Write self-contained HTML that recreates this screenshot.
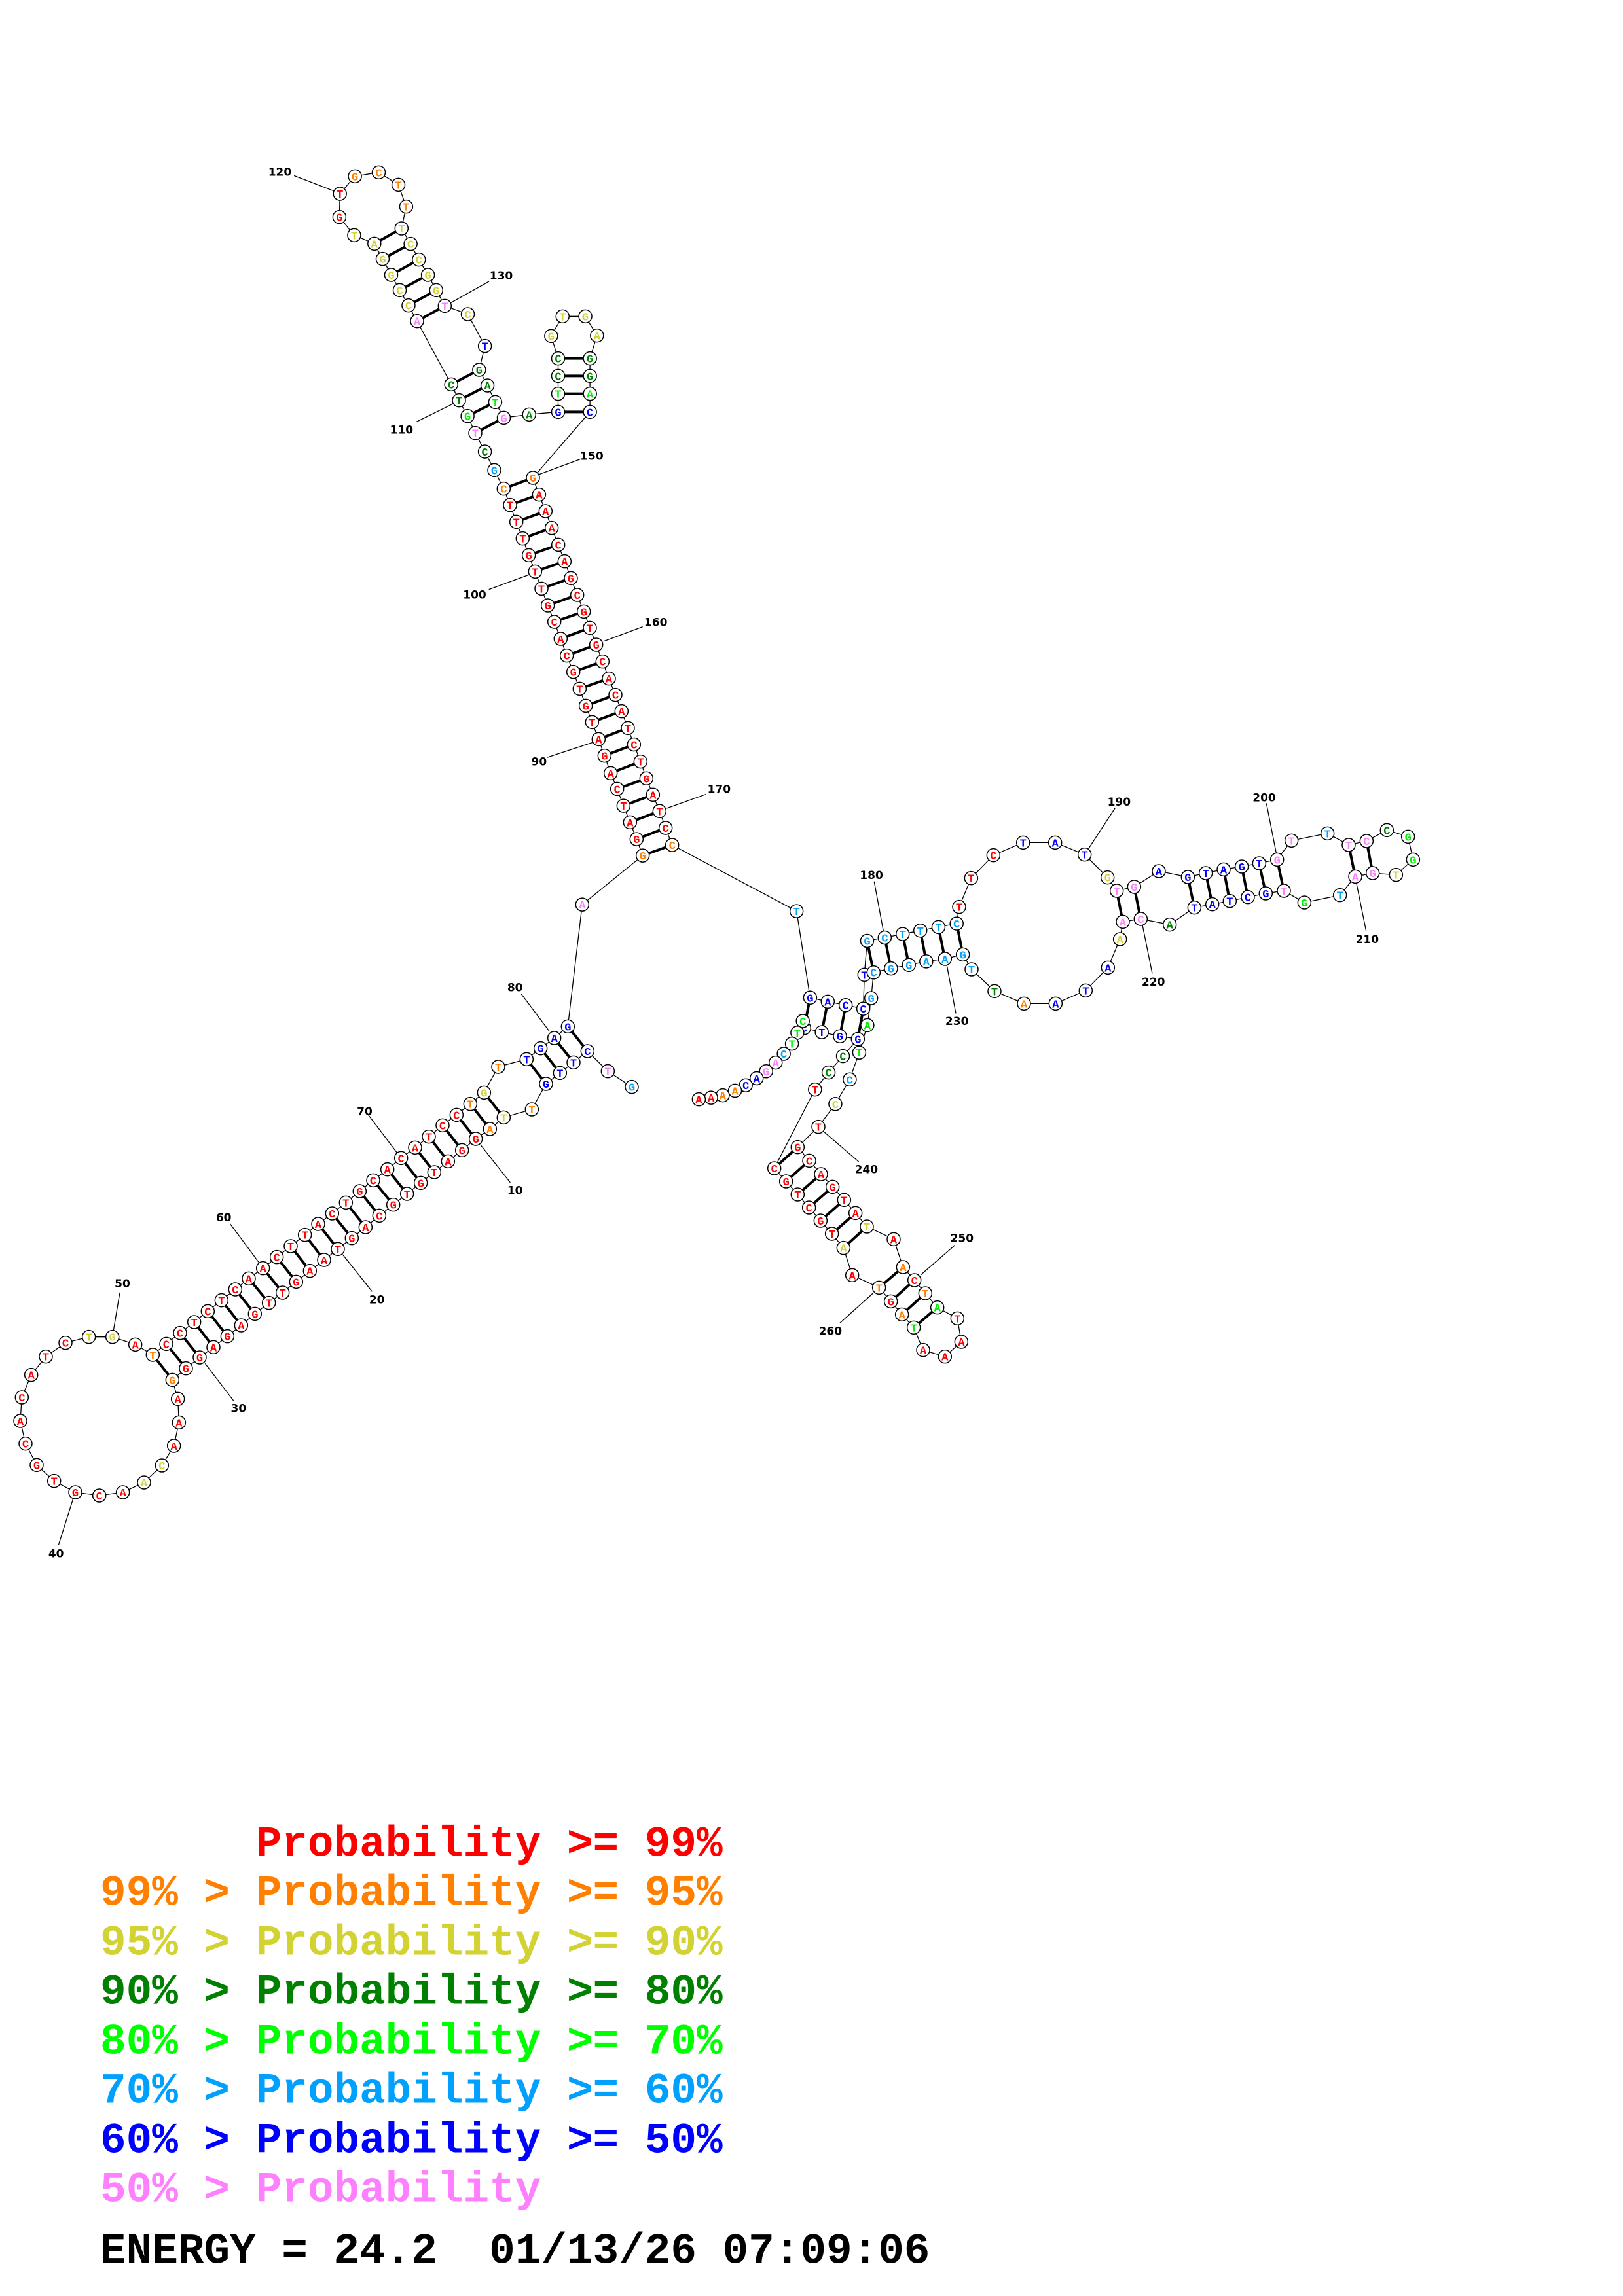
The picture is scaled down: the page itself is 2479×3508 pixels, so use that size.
<!DOCTYPE html>
<html><head><meta charset="utf-8">
<style>
html,body{margin:0;padding:0;background:#fff;}
svg{display:block;}
.n{font-family:"Liberation Mono","DejaVu Sans Mono",monospace;font-weight:bold;font-size:17px;}
.l{font-family:"DejaVu Sans","Liberation Sans",sans-serif;font-weight:bold;font-size:17px;}
.g{font-family:"Liberation Mono",monospace;font-weight:bold;font-size:66px;}
</style></head>
<body>
<svg id="s" width="2479" height="3508" viewBox="0 0 2479 3508" xmlns="http://www.w3.org/2000/svg">
<rect width="2479" height="3508" fill="#fff"/>
<g id="bb" stroke="#000" stroke-width="1.3" fill="none"></g>
<g id="pr" stroke="#000" stroke-width="4" fill="none"></g>
<g id="lb" stroke="#000" stroke-width="1.3"></g>
<g id="nd"></g>
<g id="lt"></g>
<g class="g" xml:space="preserve" dominant-baseline="central">
<text x="153" y="2818" fill="#ff0000" xml:space="preserve">      Probability &gt;= 99%</text>
<text x="153" y="2893" fill="#ff8000" xml:space="preserve">99% &gt; Probability &gt;= 95%</text>
<text x="153" y="2969" fill="#d2d232" xml:space="preserve">95% &gt; Probability &gt;= 90%</text>
<text x="153" y="3044" fill="#008000" xml:space="preserve">90% &gt; Probability &gt;= 80%</text>
<text x="153" y="3120" fill="#00ff00" xml:space="preserve">80% &gt; Probability &gt;= 70%</text>
<text x="153" y="3195" fill="#00a0ff" xml:space="preserve">70% &gt; Probability &gt;= 60%</text>
<text x="153" y="3271" fill="#0000ff" xml:space="preserve">60% &gt; Probability &gt;= 50%</text>
<text x="153" y="3346" fill="#ff80ff" xml:space="preserve">50% &gt; Probability</text>
<text x="153" y="3440" fill="#000000" xml:space="preserve">ENERGY = 24.2  01/13/26 07:09:06</text>
</g>
</svg>
<script>
var Z={1:[700,700,1/3,1/3],2:[1050,1260,650/1568,560/1568],3:[380,220,620/1568,1/3],4:[750,1100,1/3,560/1568],5:[560,1500,1/3,1/3],6:[200,1750,1/3,1/3],7:[0,2000,1/3,1/3],8:[1440,1180,1/3,1/3],9:[1880,1180,1/3,1/3],10:[1150,1680,1/3,1/3]};
function M(z,x,y){var m=Z[z];return [m[0]+x*m[2],m[1]+y*m[3]];}
var COL={R:"#ff0000",O:"#ff8000",Y:"#d2d232",DG:"#008000",G:"#00ee00",C:"#00a0ff",B:"#0000ff",P:"#ff80ff"};
var D=`5 1215 482 G C
5 1105 410 T P
5 1012 318 C B
5 948 370 T B
5 886 418 T B
5 822 468 G B
5 757 585 T O
5 628 622 T Y
5 565 675 A O
5 500 720 G R
5 437 772 G R
5 373 823 A R
5 310 873 T R
5 248 922 G R
5 185 972 T R
5 122 1022 G R
5 58 1072 C R
6 1075 375 A R
6 1012 425 G R
6 948 475 T R
6 885 525 A R
6 820 575 A R
6 757 625 G R
6 695 675 T R
6 632 722 T R
6 568 772 G R
6 505 825 A R
6 442 875 G R
6 378 925 A R
6 315 972 G R
6 252 1022 G R
6 190 1075 G O
7 815 412 A R
7 820 520 A R
7 797 627 A R
7 742 717 C Y
7 660 795 A Y
7 563 840 A R
7 455 855 C R
7 345 840 G R
7 248 788 T R
7 168 715 G R
7 117 617 C R
7 93 513 A R
7 100 405 C R
7 143 302 A R
7 210 218 T R
7 300 155 C R
7 407 128 T Y
7 515 128 G Y
7 620 163 A R
7 700 210 T O
6 162 910 C R
6 225 860 C R
6 290 810 T R
6 352 760 C R
6 415 710 T R
6 478 660 C R
6 540 610 A R
6 605 563 A R
6 668 512 C R
6 732 462 T R
6 797 410 T R
6 858 360 A R
6 922 312 C R
6 985 262 T R
6 1048 210 G R
6 1110 160 C R
6 1175 110 A R
5 158 808 C R
5 222 760 A R
5 285 710 T R
5 348 658 C R
5 412 610 C R
5 475 560 T O
5 538 508 G Y
5 603 390 T O
5 733 355 T B
5 797 305 G B
5 860 258 A B
5 922 205 G B
4 418 790 A P
4 695 580 G O
4 667 510 G R
4 637 438 A R
4 607 367 T R
4 578 295 C R
4 548 228 A R
4 520 153 G R
1 643 1288 A R
1 613 1210 T R
1 584 1135 G R
1 556 1057 T R
1 527 980 G R
1 497 905 C R
1 469 828 A R
1 440 750 C R
1 410 675 G R
1 381 598 T R
1 352 520 T R
1 323 445 G R
1 295 368 T R
1 266 292 T R
1 237 215 T R
1 208 140 C O
1 165 55 G C
3 912 1410 C DG
3 875 1325 T P
3 845 1247 G G
3 812 1175 T DG
3 782 1102 C DG
3 650 812 A P
3 617 740 C Y
3 583 670 C Y
3 550 600 G Y
3 517 527 G Y
3 485 457 A Y
3 407 418 T Y
3 350 335 G R
3 352 228 T R
3 410 148 G O
3 502 130 C O
3 578 187 T O
3 608 287 T O
3 590 387 T Y
3 625 458 C Y
3 657 530 C Y
3 692 600 G Y
3 724 670 G Y
3 757 742 T P
3 846 780 C Y
3 912 926 T B
3 890 1035 G DG
3 922 1107 A DG
3 952 1183 T G
3 985 1255 G P
3 1083 1240 A DG
3 1195 1228 G B
3 1195 1145 T G
3 1195 1063 C DG
3 1195 983 C DG
3 1168 880 G Y
3 1212 790 T Y
3 1300 790 G Y
3 1345 878 A Y
3 1318 983 G DG
3 1318 1063 G DG
3 1318 1145 A G
3 1318 1228 C B
1 342 90 G O
1 370 167 A R
1 400 243 A R
1 428 320 A R
1 458 397 C R
1 487 473 A R
1 516 550 G R
1 545 627 C R
1 575 703 G R
1 603 778 T R
1 632 855 G R
1 661 932 C R
1 690 1010 A R
1 720 1085 C R
1 748 1160 A R
1 777 1237 T R
4 655 105 C R
4 685 178 T R
4 712 250 G R
4 742 320 A R
4 772 390 T R
4 800 462 C R
4 830 535 C O
4 1400 818 T C
2 452 740 G B
2 517 757 A B
2 583 772 C B
2 648 787 C B
2 652 642 T B
2 662 497 G C
2 727 483 C C
2 793 468 T C
2 858 453 T C
2 925 438 T C
2 992 423 C C
8 75 617 T R
8 130 485 T R
8 232 380 C R
8 368 322 T B
8 515 322 A B
8 650 377 T B
8 755 482 G Y
8 797 543 T P
8 877 525 G P
8 990 453 A B
8 1123 480 G B
8 1205 462 T B
8 1287 445 A B
8 1370 432 G B
8 1450 417 T B
9 212 400 G P
9 278 313 T P
9 443 280 T C
9 540 333 T P
9 622 315 C P
9 715 265 C DG
9 812 295 G G
9 835 400 G G
9 757 470 T Y
9 650 462 G P
9 570 478 A P
9 500 563 T C
9 337 597 G G
9 243 543 T P
9 160 555 G B
9 78 572 C B
8 1315 590 T B
8 1235 605 A B
8 1153 620 T B
8 1040 698 A DG
8 907 672 C P
8 825 685 A P
8 812 765 A Y
8 757 895 A B
8 655 1000 T B
8 517 1060 A B
8 372 1060 A O
8 237 1003 T DG
8 132 903 T C
8 92 835 G C
8 10 855 A C
2 880 585 A C
2 816 600 G C
2 750 615 G C
2 686 632 C C
2 677 742 G C
2 663 858 A G
2 633 975 T G
2 598 1090 C C
2 545 1195 C Y
10 300 125 T R
10 205 218 G R
10 258 280 C R
10 312 342 A R
10 365 400 G R
10 418 460 T R
10 470 520 A R
10 522 582 T Y
10 645 640 A R
10 688 768 A O
10 740 828 C R
10 790 888 T O
10 845 953 A G
10 937 1003 T R
10 955 1110 A R
10 880 1178 A R
10 780 1148 A R
10 737 1045 T G
10 683 985 A O
10 632 925 G R
10 578 862 T O
10 455 805 A R
10 415 680 A Y
10 362 615 T R
10 310 555 G R
10 257 495 C R
10 205 435 T R
10 152 375 G R
10 98 315 C R
2 470 1133 T R
2 520 1060 C DG
2 573 990 C DG
2 628 917 G B
2 562 905 G B
2 495 888 T B
2 430 870 C B
2 425 840 C G
2 405 890 T G
2 385 937 T G
2 355 980 C C
2 325 1018 A P
2 290 1055 G P
2 255 1085 A B
2 215 1115 C B
2 175 1138 A O
2 130 1158 A O
2 87 1168 A R
2 42 1175 A R`;
var N=[null];
D.split("\n").forEach(function(r){var a=r.trim().split(/\s+/);var p=M(+a[0],+a[1],+a[2]);N.push({x:p[0],y:p[1],c:a[3],k:COL[a[4]]});});
var P=[];
function rng(a,b,s){for(var i=a;i<=b;i++)P.push([i,s-i]);}
rng(3,6,84);rng(8,32,84);rng(83,105,255);rng(108,111,244);rng(112,117,242);rng(138,141,287);
rng(174,177,449);rng(179,184,413);P.push([192,221],[193,220]);rng(195,200,413);P.push([203,210],[204,209]);
rng(241,247,509);rng(249,252,509);
var NS="http://www.w3.org/2000/svg";
function el(t,at,par,txt){var e=document.createElementNS(NS,t);for(var k in at)e.setAttribute(k,at[k]);if(txt!==undefined)e.textContent=txt;document.getElementById(par).appendChild(e);return e;}
var pts=[];for(var i=1;i<N.length;i++)pts.push(N[i].x.toFixed(1)+","+N[i].y.toFixed(1));
el("polyline",{points:pts.join(" ")},"bb");
P.forEach(function(p){var a=N[p[0]],b=N[p[1]];el("line",{x1:a.x,y1:a.y,x2:b.x,y2:b.y},"pr");});
for(var i=1;i<N.length;i++){var n=N[i];el("circle",{cx:n.x,cy:n.y,r:10,fill:"#fff",stroke:"#000","stroke-width":1.5},"nd");
el("text",{x:n.x,y:n.y+6,"text-anchor":"middle",fill:n.k,"class":"n"},"nd",n.c);}
var L=[[10,5,680,955,522,748,658,920],[20,6,1127,707,970,500,1105,670],[30,6,493,1205,340,1000,470,1170],
[40,7,257,1120,335,870,268,1082],[60,6,425,330,455,360,585,535],[80,5,680,25,708,55,838,228],
[90,4,220,178,258,160,470,95],[100,1,75,625,140,602,322,535],[110,3,590,1310,645,1275,790,1190],
[120,3,120,128,175,145,328,215],[130,3,975,603,928,630,780,728],[150,3,1325,1430,1280,1445,1120,1515],
[160,1,905,752,845,773,665,840],[170,4,1045,295,985,318,805,378],[180,2,678,215,688,243,722,455],
[190,8,808,135,790,163,668,350],[200,9,153,115,163,142,208,370],[210,9,625,765,620,728,575,505],
[220,8,965,960,960,922,915,700],[230,8,65,1140,60,1105,18,880],[240,10,520,320,485,285,328,150],
[250,10,958,635,925,668,770,803],[260,10,355,1060,398,1025,550,888]];
L.forEach(function(l){var t=M(l[1],l[2],l[3]),a=M(l[1],l[4],l[5]),b=M(l[1],l[6],l[7]);
el("line",{x1:a[0],y1:a[1],x2:b[0],y2:b[1]},"lb");el("text",{x:t[0],y:t[1]+6,"text-anchor":"middle","class":"l"},"lt",""+l[0]);});
el("line",{x1:183,y1:1975,x2:171.7,y2:2042.7},"lb");el("text",{x:187,y:1967,"text-anchor":"middle","class":"l"},"lt","50");
el("line",{x1:560,y1:1700,x2:606.7,y2:1761.7},"lb");el("text",{x:557,y:1704,"text-anchor":"middle","class":"l"},"lt","70");
</script>
</body></html>
